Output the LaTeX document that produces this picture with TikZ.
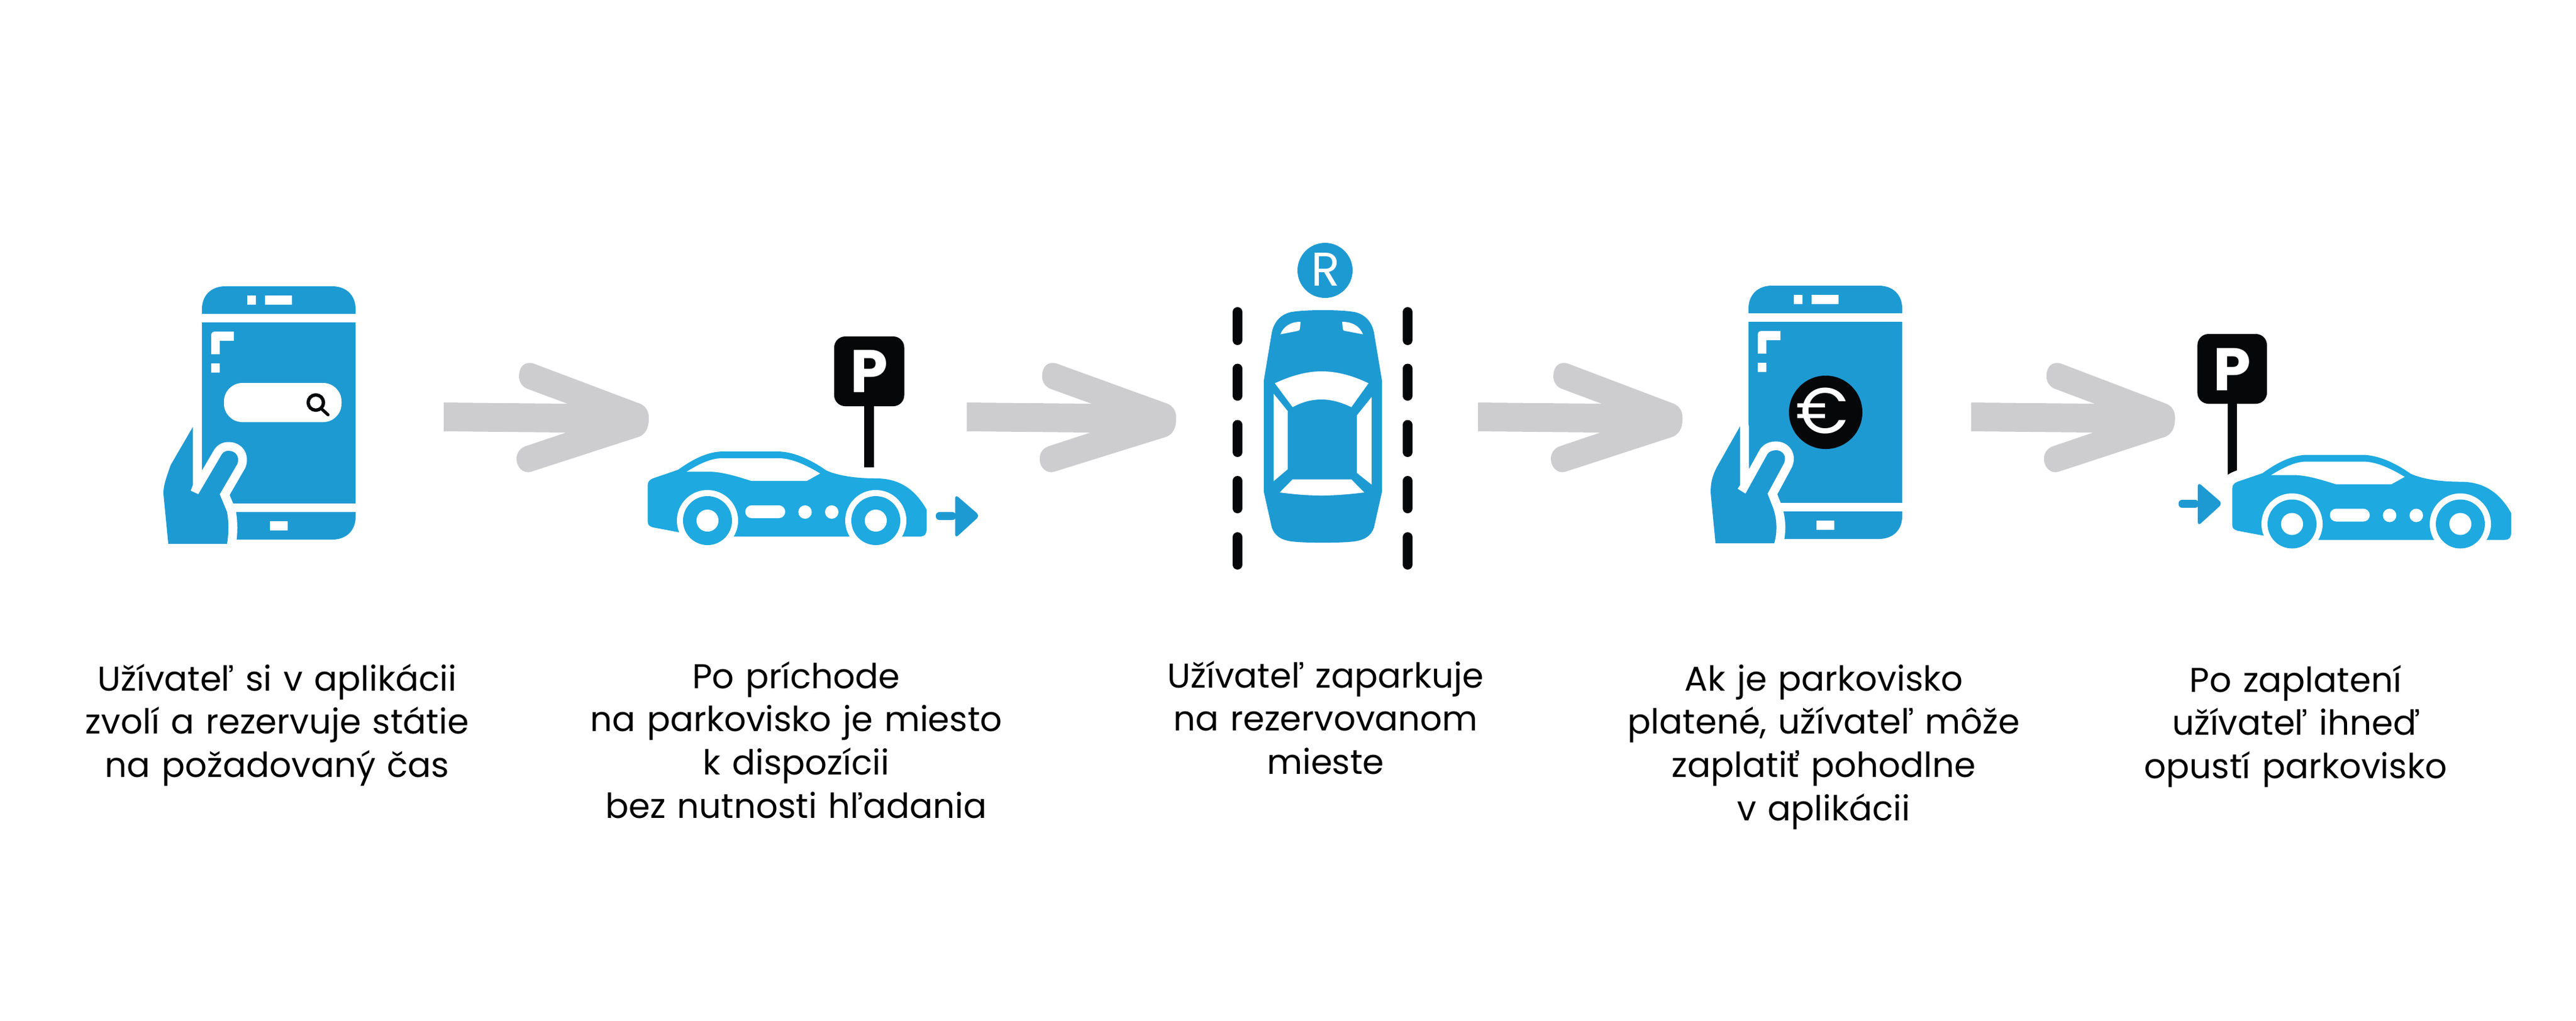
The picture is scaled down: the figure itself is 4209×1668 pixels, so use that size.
\documentclass[tikz,border=0pt]{standalone}
\usepackage{fontspec}
\setmainfont{Poppins}[WordSpace=0.85]
\definecolor{phoneblue}{HTML}{1E9AD3}
\definecolor{carblue}{HTML}{1EA9E0}
\definecolor{arrowgray}{HTML}{CDCDCF}
\definecolor{ink}{HTML}{060709}
\tikzset{
  caption/.style={inner sep=0pt,anchor=base,align=center,text width=9cm,text=black,
    font=\fontsize{16}{20.15}\selectfont},
  signletter/.style={inner sep=0pt,text=white,font=\fontsize{28}{28}\selectfont\bfseries},
  handhalo/.style={draw=white,line width=0.29cm,line join=round},
  dashline/.style={draw=ink,line width=0.16cm,line cap=round}
}
% #1 tail x, #2 extra length of the front of the head
\newcommand{\grayarrow}[2]{%
  \fill[arrowgray,shift={(#1,0)}] (0,658) -- ({202+#2/4},660) -- (138,636) .. controls (129,633) and (123,625) .. (123,615) .. controls (123,602) and (130,590) .. (146,594) -- ({320+#2},660) .. controls ({329+#2},664) and ({334+#2},672) .. ({334+#2},682) -- ({334+#2},686) .. controls ({334+#2},700) and ({328+#2},710) .. ({318+#2},714) -- (143,771) .. controls (130,775) and (119,764) .. (119,750) .. controls (119,740) and (125,732) .. (135,729) -- ({200+#2/4},707) -- (0,705) -- cycle;}
\newcommand{\phonebody}{%
  \fill[phoneblue] (330,513) -- (330,505) .. controls (330,483) and (345,468) .. (368,468) -- (543,468) .. controls (566,468) and (581,483) .. (581,505) -- (581,513) -- cycle;
  \fill[phoneblue] (330,527) rectangle (581,823);
  \fill[phoneblue] (330,837) -- (581,837) -- (581,845) .. controls (581,867) and (566,882) .. (543,882) -- (330,882) -- cycle;
  \fill[white] (404,483) rectangle (418,498) (433,483) rectangle (477,498) (441,852) rectangle (470,867) (345,594) rectangle (359,609);
  \fill[white] (345,579) -- (345,549) .. controls (345,544) and (347,542) .. (352,542) -- (382,542) -- (382,557) -- (359,557) -- (359,579) -- cycle;}
\newcommand{\sidecar}{%
  \fill[carblue] (1058.4,793) .. controls (1058.4,787) and (1062,784) .. (1066.7,782) -- (1107.8,768) .. controls (1130,752) and (1155,738) .. (1182,738) -- (1270,738) .. controls (1300,738) and (1330,755) .. (1350,769) .. controls (1370,778) and (1400,782) .. (1431,782) .. controls (1470,782) and (1495,800) .. (1514,833) -- (1514,866) .. controls (1514,873) and (1510,877) .. (1504,877) -- (1156,877) -- (1109,870) -- (1066.7,862) .. controls (1061,860) and (1058.4,858) .. (1058.4,853) -- cycle;
  \fill[white] (1122,771) .. controls (1140,760) and (1160,749) .. (1180,749) -- (1272,749) .. controls (1295,749) and (1320,762) .. (1340,774) -- (1318.5,786) -- (1227.6,786) .. controls (1205,779) and (1180,771) .. (1158,771) -- cycle;
  \fill[white] (1156,851) circle[radius=50] (1431,851) circle[radius=50];
  \fill[carblue] (1156,851) circle[radius=40] (1431,851) circle[radius=40];
  \fill[white] (1156,851) circle[radius=18] (1431,851) circle[radius=18];
  \fill[white,rounded corners=0.105cm] (1217.7,826) rectangle (1283,847);
  \fill[white] (1315.4,837) circle[radius=11] (1359,837) circle[radius=11];}
\newcommand{\smallarrow}{%
  \fill[phoneblue,rounded corners=0.06cm] (1529,837) -- (1562,837) -- (1562,850) -- (1529,850) -- cycle;
  \fill[phoneblue,rounded corners=0.07cm] (1560.5,808) -- (1601,843) -- (1560.5,880) -- cycle;}
\begin{document}
\begin{tikzpicture}[x=0.01cm,y=-0.01cm]
\useasboundingbox (0,0) rectangle (4209,1668);
\fill[white] (0,0) rectangle (4209,1668);

% gray arrows
\grayarrow{725}{1}
\grayarrow{1579.7}{8}
\grayarrow{2415}{0}
\grayarrow{3220.7}{-1}

% phone 1
\phonebody
\fill[white,rounded corners=0.3cm] (366,626) rectangle (558,690);
\draw[ink,line width=0.055cm] (516,658) circle[radius=12.5];
\draw[ink,line width=0.05cm,line cap=round] (525,668) -- (536,678);
\def\handone{(315,698) -- (279,760) .. controls (270,785) and (267,795) .. (267,807) -- (275,889) -- (371,889) .. controls (374,870) and (374,855) .. (371,837) -- (359,808) -- (388,758) .. controls (392,745) and (384,737) .. (373.5,737) .. controls (366,737) and (363,741) .. (361,745) -- (324,808) -- (311.5,802) -- (315,793) -- cycle}
\path[handhalo] \handone;
\fill[phoneblue] \handone;

% step 2 car
\sidecar
\smallarrow
\fill[ink] (1412,660) rectangle (1428,764);
\fill[ink,rounded corners=0.18cm] (1363,550) rectangle (1477.5,664);
\node[signletter] (signa) at (1420,607) {P};

% step 3 top view
\fill[phoneblue] (2161.7,507) .. controls (2185,507) and (2200,508) .. (2213,510) .. controls (2232,514) and (2242,528) .. (2245,544) -- (2258,622) -- (2258,804) -- (2245,862) .. controls (2240,877) and (2228,883) .. (2213,885) .. controls (2195,887) and (2180,887) .. (2161.7,887) .. controls (2143,887) and (2128,887) .. (2110,885) .. controls (2095,883) and (2083,877) .. (2078,862) -- (2065,804) -- (2065,622) -- (2078,544) .. controls (2081,528) and (2091,514) .. (2110,510) .. controls (2123,508) and (2138,507) .. (2161.7,507) -- cycle;
\fill[white] (2092,546.5) .. controls (2097,534) and (2108,526) .. (2125,526) -- (2124,537) .. controls (2124,540) and (2122,541) .. (2120,541) -- cycle;
\fill[white] (2227,546.5) .. controls (2222,534) and (2211,526) .. (2193,526) -- (2194,537) .. controls (2194,540) and (2196,541) .. (2198,541) -- cycle;
\fill[white] (2083,626.5) .. controls (2110,614) and (2135,607) .. (2159,607) .. controls (2185,607) and (2210,614) .. (2236,626.5) -- (2208,665.5) .. controls (2190,657) and (2175,653) .. (2159,653) .. controls (2143,653) and (2128,657) .. (2112,665.5) -- cycle;
\fill[white] (2081,643.6) -- (2104,672) -- (2104,767) -- (2081,786.5) -- cycle;
\fill[white] (2241,649) -- (2217,679) -- (2217,773) -- (2241,792) -- cycle;
\fill[white] (2112,783.6) -- (2208,783.6) -- (2229,805) .. controls (2205,808) and (2180,810) .. (2160,810) .. controls (2135,810) and (2115,808) .. (2091,805) -- cycle;
\foreach \dx in {2022,2300}{
  \draw[dashline] (\dx,510) -- (\dx,556);
  \draw[dashline] (\dx,602.5) -- (\dx,647);
  \draw[dashline] (\dx,694.5) -- (\dx,739);
  \draw[dashline] (\dx,786) -- (\dx,831);
  \draw[dashline] (\dx,878) -- (\dx,923);
}
\fill[phoneblue] (2165,442) circle[radius=45];
\node[inner sep=0pt,text=white,font=\fontsize{22}{22}\selectfont] (rmark) at (2166,441) {R};

% phone 2
\begin{scope}[shift={(2527,-1)}]
\phonebody
\end{scope}
\fill[ink] (2983,674) circle[radius=60];
\node[inner sep=0pt,text=white,font=\fontsize{30}{30}\selectfont] (euro) at (2977,672) {€};
\def\handtwo{(2843,697) -- (2809,757) .. controls (2800,772) and (2795,785) .. (2795,805) -- (2803,888) -- (2899,888) .. controls (2904,870) and (2904,850) .. (2897,830) -- (2888,807) -- (2915,757) .. controls (2920,745) and (2912,736) .. (2902,736) .. controls (2896,736) and (2891,738) .. (2888,742) -- (2852,807) -- (2839,799) -- (2843,793) -- cycle}
\path[handhalo] \handtwo;
\fill[phoneblue] \handtwo;

% step 5 car
\fill[ink] (3640,655) -- (3654.7,655) -- (3654.7,769) .. controls (3649,771) and (3644,773) .. (3640,776) -- cycle;
\fill[ink,rounded corners=0.18cm] (3590.4,546) rectangle (3704,660);
\node[signletter] (signb) at (3647,603.5) {P};
\begin{scope}[shift={(2589,5.5)}]
\sidecar
\end{scope}
\begin{scope}[shift={(2030.5,-20)}]
\smallarrow
\end{scope}

% captions
\node[caption] (capa) at (453,1129) {Užívateľ si v aplikácii\\zvolí a rezervuje státie\\na požadovaný čas};
\node[caption] (capb) at (1301,1125) {Po príchode\\na parkovisko je miesto\\k dispozícii\\bez nutnosti hľadania};
\node[caption] (capc) at (2166,1124) {Užívateľ zaparkuje\\na rezervovanom\\mieste};
\node[caption] (capd) at (2980,1129) {Ak je parkovisko\\platené, užívateľ môže\\zaplatiť pohodlne\\v aplikácii};
\node[caption] (cape) at (3751,1131) {Po zaplatení\\užívateľ ihneď\\opustí parkovisko};
\end{tikzpicture}
\end{document}
